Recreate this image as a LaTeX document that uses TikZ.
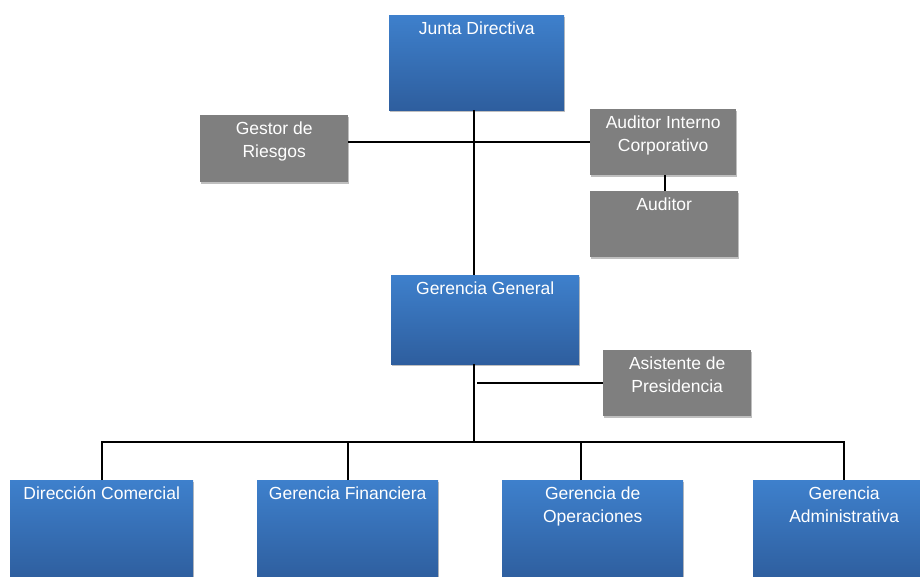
\documentclass[tikz,border=0pt]{standalone}
\usepackage{fontspec}
\setmainfont{Liberation Sans}
\usetikzlibrary{shadows}
\definecolor{blueTop}{RGB}{62,128,204}
\definecolor{blueBot}{RGB}{46,94,158}
\definecolor{grayBox}{RGB}{127,127,127}
\begin{document}
\begin{tikzpicture}[x=1pt,y=-1pt,
  boxshadow/.style={drop shadow={shadow xshift=1pt,shadow yshift=-2pt,opacity=0.25,fill=black}},
  bluebox/.style={rectangle, anchor=north west, inner sep=0, top color=blueTop, bottom color=blueBot, boxshadow},
  graybox/.style={rectangle, anchor=north west, inner sep=0, fill=grayBox, boxshadow},
  lbl/.style={anchor=north, inner sep=0, text=white, align=center, font=\fontsize{17.5}{23}\selectfont},
  conn/.style={draw=black, line width=1.6pt}]
\useasboundingbox (0,0) rectangle (920,577);
\coordinate (trunk) at (474,0);
\coordinate (bar) at (474,442);
% boxes
\node[bluebox, minimum width=175pt, minimum height=95pt] (junta) at (389,15) {};
\node[graybox, minimum width=148pt, minimum height=67pt] (gestor) at (200,115) {};
\node[graybox, minimum width=146pt, minimum height=66pt] (audint) at (590,109) {};
\node[graybox, minimum width=148pt, minimum height=66pt] (aud) at (590,191) {};
\node[bluebox, minimum width=188pt, minimum height=89pt] (gg) at (391,275) {};
\node[graybox, minimum width=148pt, minimum height=66pt] (asis) at (603,350) {};
\node[bluebox, minimum width=183pt, minimum height=100pt] (dir) at (10,480) {};
\node[bluebox, minimum width=181pt, minimum height=100pt] (fin) at (257,480) {};
\node[bluebox, minimum width=181pt, minimum height=100pt] (oper) at (502,480) {};
\node[bluebox, minimum width=182pt, minimum height=100pt] (adm) at (753,480) {};
% labels
\node[lbl] (juntaT) at ([yshift=-7pt]junta.north) {Junta Directiva};
\node[lbl] (gestorT) at ([yshift=-7pt]gestor.north) {Gestor de\\Riesgos};
\node[lbl] (audintT) at ([yshift=-7pt]audint.north) {Auditor Interno\\Corporativo};
\node[lbl] (audT) at ([yshift=-7pt]aud.north) {Auditor};
\node[lbl] (ggT) at ([yshift=-7pt]gg.north) {Gerencia General};
\node[lbl] (asisT) at ([yshift=-7pt]asis.north) {Asistente de\\Presidencia};
\node[lbl, anchor=base] (dirT) at ([yshift=-19.5pt]dir.north) {Dirección Comercial};
\node[lbl] (finT) at ([yshift=-7pt]fin.north) {Gerencia Financiera};
\node[lbl] (operT) at ([yshift=-7pt]oper.north) {Gerencia de\\Operaciones};
\node[lbl] (admT) at ([yshift=-7pt]adm.north) {Gerencia\\Administrativa};
% connectors
\draw[conn] (junta.south -| trunk) -- (gg.north -| trunk);
\draw[conn] (gestor.east |- audint.west) -- (audint.west);
\draw[conn] ([xshift=2pt]audint.south) -- ([xshift=2pt]audint.south |- aud.north);
\draw[conn] (gg.south -| trunk) -- (bar);
\draw[conn] ([xshift=3pt]trunk |- asis.west) -- (asis.west);
\draw[conn] (dir.north) |- (adm.north |- bar) -- (adm.north);
\draw[conn] (fin.north) -- (fin.north |- bar);
\draw[conn] ([xshift=-12pt]oper.north) -- ([xshift=-12pt]oper.north |- bar);
\end{tikzpicture}
\end{document}
